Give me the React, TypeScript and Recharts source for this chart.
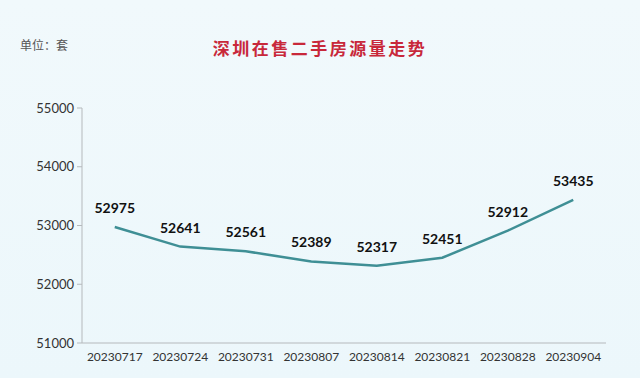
import { LineChart, Line, XAxis, YAxis, LabelList } from 'recharts';

const dates = ['20230717', '20230724', '20230731', '20230807', '20230814', '20230821', '20230828', '20230904'];
const listings = [52975, 52641, 52561, 52389, 52317, 52451, 52912, 53435];
const yTicks = [51000, 52000, 53000, 54000, 55000];
const edgeTicks = [0, 1, 2, 3, 4, 5, 6, 7, 8];

const data = dates.map((date, i) => ({ date, count: listings[i], slot: i + 0.5 }));

const axisColor = '#b5b9bc';
const latin = 'Lato, "Noto Sans", sans-serif';

export default function App() {
  return (
    <div
      style={{
        position: 'absolute',
        left: 0,
        top: 0,
        width: 640,
        height: 378,
        background: 'linear-gradient(180deg, #f1f9fc 0%, #ecf7fb 100%)',
        overflow: 'hidden',
      }}
    >
      <div
        style={{
          position: 'absolute',
          left: 20,
          top: 36,
          fontSize: 12,
          color: '#555',
          fontFamily: '"Noto Sans CJK SC", sans-serif',
        }}
      >
        单位：套
      </div>
      <div
        style={{
          position: 'absolute',
          left: 0,
          width: 640,
          top: 35,
          textAlign: 'center',
          fontSize: 17,
          letterSpacing: 2.5,
          fontWeight: 700,
          color: '#c8283a',
          fontFamily: '"Noto Sans CJK SC", sans-serif',
        }}
      >
        深圳在售二手房源量走势
      </div>
      <LineChart width={640} height={378} data={data} margin={{ top: 108, right: 34, left: 22, bottom: 10 }}>
        <XAxis
          xAxisId="a-edge"
          type="number"
          dataKey="slot"
          domain={[0, 8]}
          ticks={edgeTicks}
          allowDataOverflow
          tick={false}
          tickSize={5}
          height={1}
          stroke={axisColor}
        />
        <XAxis
          xAxisId="b-cat"
          dataKey="date"
          axisLine={false}
          tickLine={false}
          height={24}
          padding={{ left: 32.75, right: 32.75 }}
          tickMargin={2}
          tick={{ fontSize: 12, fill: '#333', fontFamily: latin }}
        />
        <YAxis
          domain={[51000, 55000]}
          ticks={yTicks}
          width={60}
          tickSize={5}
          tickMargin={3}
          stroke={axisColor}
          tick={{ fontSize: 13, fill: '#333', fontFamily: latin }}
        />
        <Line
          xAxisId="b-cat"
          type="linear"
          dataKey="count"
          stroke="#3f8f95"
          strokeWidth={2.5}
          dot={false}
          isAnimationActive={false}
        >
          <LabelList
            dataKey="count"
            position="top"
            offset={14}
            style={{ fontSize: 14, fontWeight: 700, fill: '#111', fontFamily: latin }}
          />
        </Line>
      </LineChart>
    </div>
  );
}
